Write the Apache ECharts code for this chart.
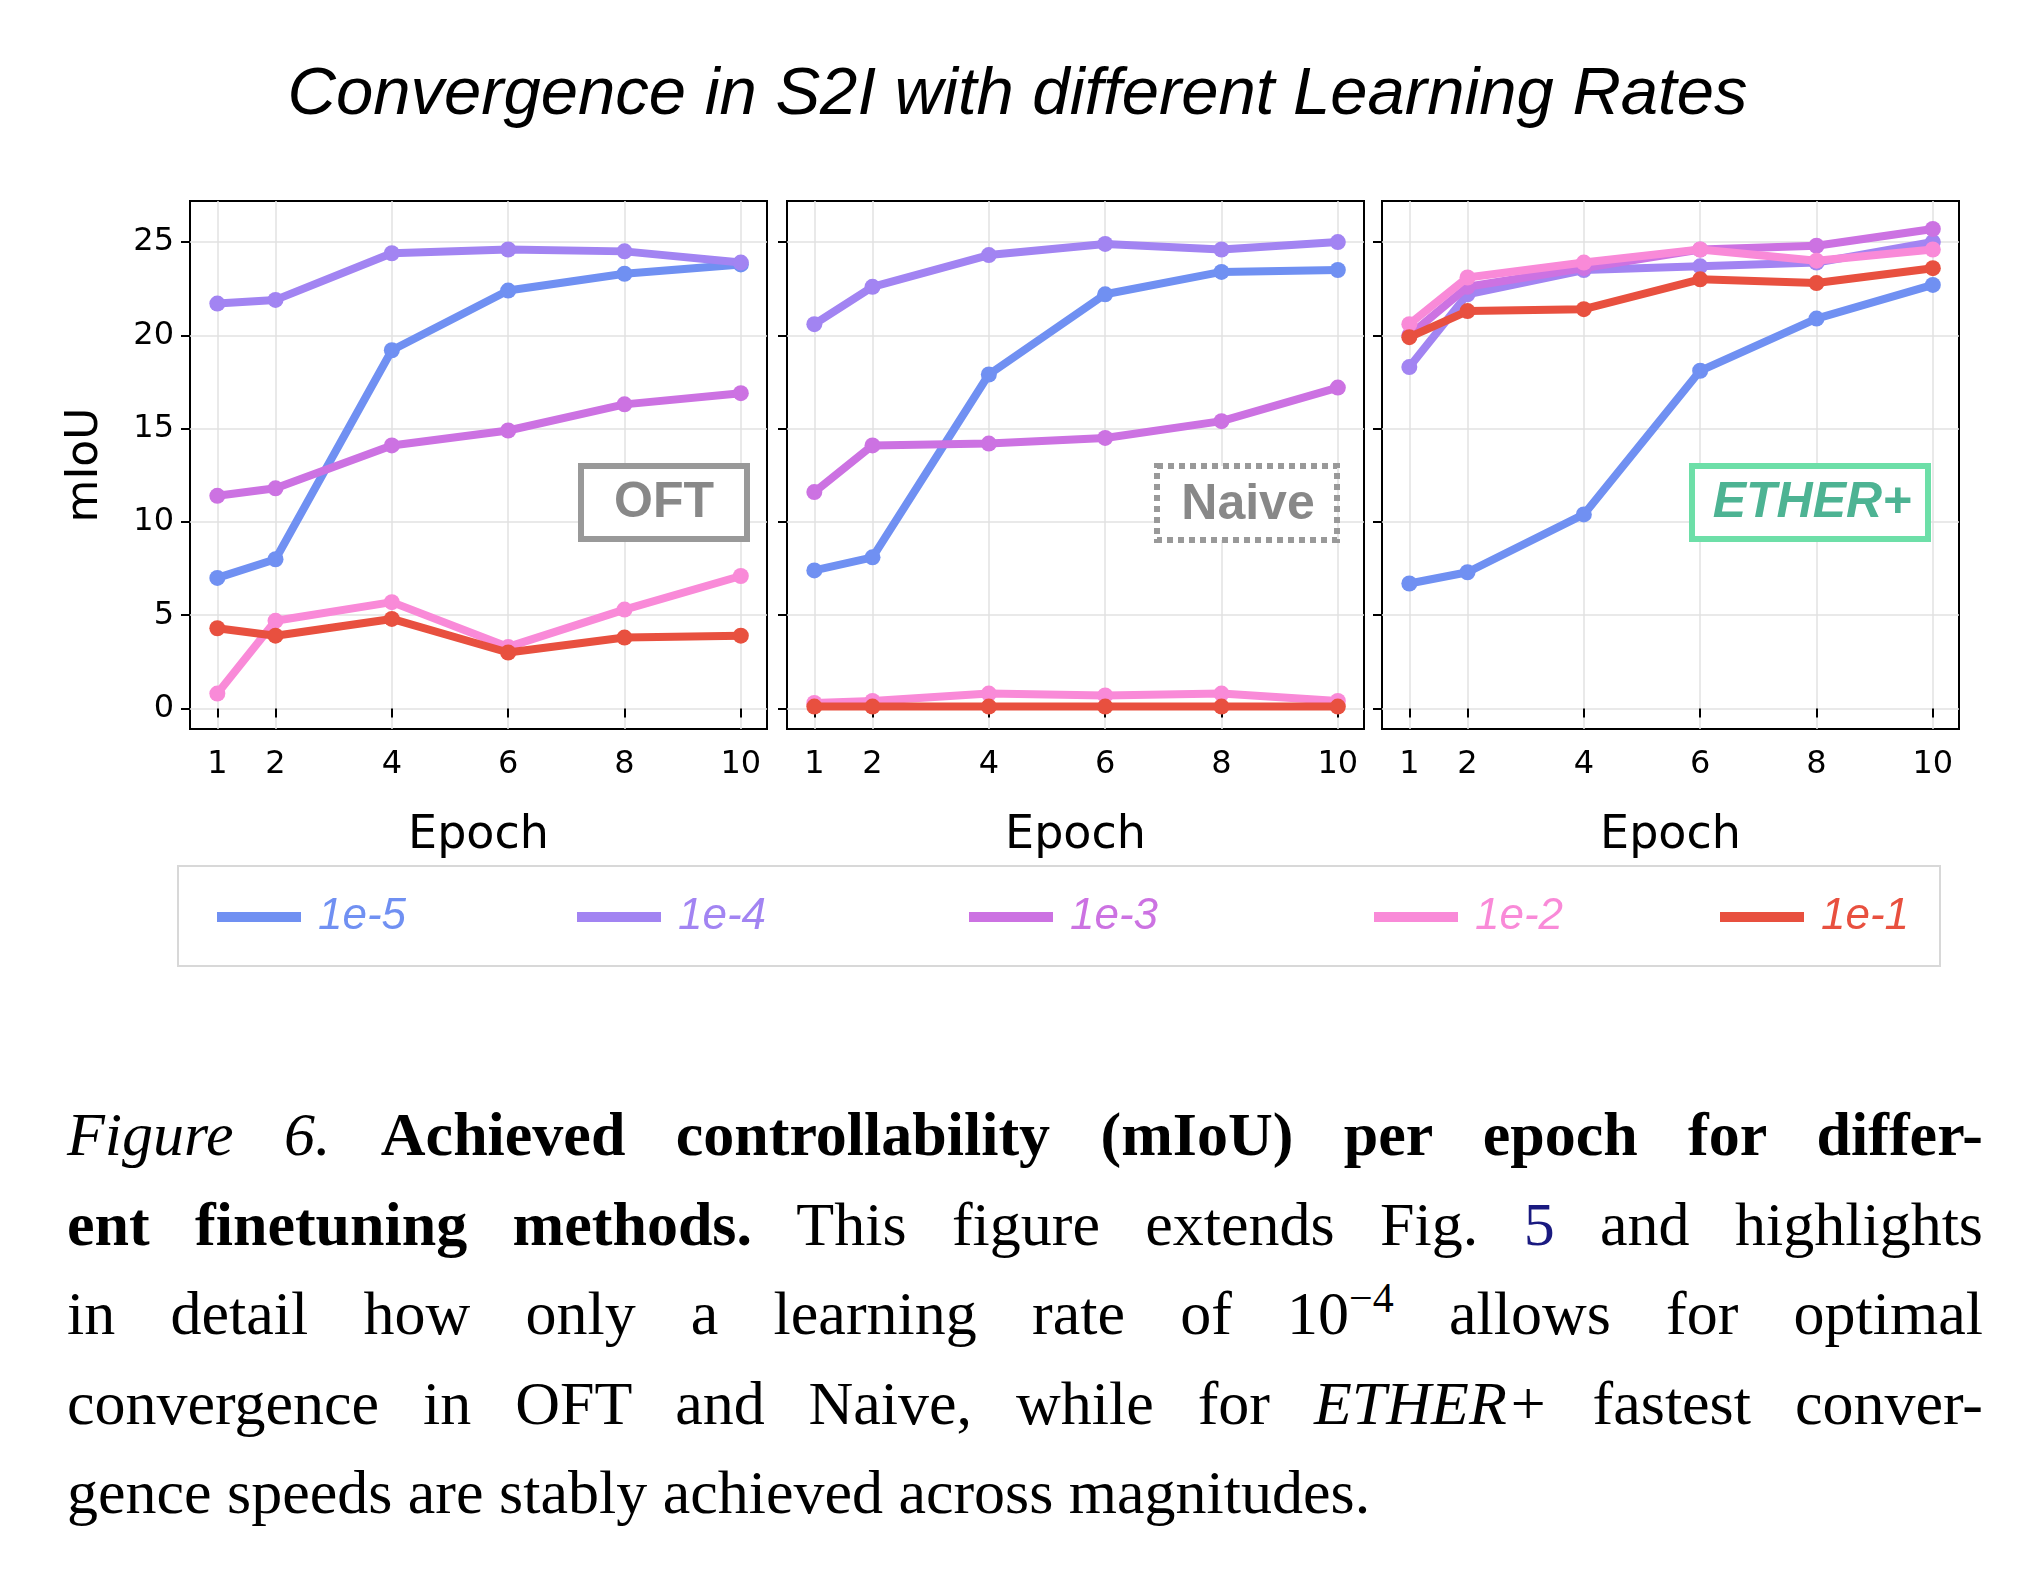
<!DOCTYPE html>
<html><head><meta charset="utf-8">
<script src="https://cdn.jsdelivr.net/npm/echarts@6/dist/echarts.min.js"></script>
<style>
body{margin:0;background:#fff;width:2035px;height:1581px;overflow:hidden;position:relative}
#c{position:absolute;left:0;top:0;width:2035px;height:1060px}
#cap{position:absolute;left:67px;top:1090px;width:1916px;font-family:"Liberation Serif",serif;font-size:62px;line-height:89.5px;color:#000}
#cap div{text-align:justify;text-align-last:justify;white-space:nowrap}
#cap div.last{text-align-last:left}
</style></head><body>
<div id="c"></div>
<div id="cap">
<div><i>Figure 6.</i> <b>Achieved controllability (mIoU) per epoch for differ-</b></div>
<div><b>ent finetuning methods.</b> This figure extends Fig. <span style="color:#1a1a80">5</span> and highlights</div>
<div>in detail how only a learning rate of 10<sup style="font-size:42px;line-height:0">−4</sup> allows for optimal</div>
<div>convergence in OFT and Naive, while for <i>ETHER+</i> fastest conver-</div>
<div class="last">gence speeds are stably achieved across magnitudes.</div>
</div>
<script>
const epochs=[1,2,4,6,8,10];
const rates=['1e-5','1e-4','1e-3','1e-2','1e-1'];
const colors=['#7090f2','#a284f2','#cc72e2','#f98ad8','#e8503f'];
const panels=['OFT','Naive','ETHER+'];
const oft=[[7.0,8.0,19.2,22.4,23.3,23.8],[21.7,21.9,24.4,24.6,24.5,23.9],[11.4,11.8,14.1,14.9,16.3,16.9],[0.8,4.7,5.7,3.3,5.3,7.1],[4.3,3.9,4.8,3.0,3.8,3.9]];
const naive=[[7.4,8.1,17.9,22.2,23.4,23.5],[20.6,22.6,24.3,24.9,24.6,25.0],[11.6,14.1,14.2,14.5,15.4,17.2],[0.3,0.4,0.8,0.7,0.8,0.4],[0.1,0.1,0.1,0.1,0.1,0.1]];
const ether=[[6.7,7.3,10.4,18.1,20.9,22.7],[18.3,22.2,23.5,23.7,23.9,25.0],[20.0,22.6,23.6,24.6,24.8,25.7],[20.6,23.1,23.9,24.6,24.0,24.6],[19.9,21.3,21.4,23.0,22.8,23.6]];
const yTicks=[0,5,10,15,20,25];
const data=[oft,naive,ether];
const lefts=[190,787,1382], W=577;
const font='DejaVu Sans';
const grid=[],xAxis=[],yAxis=[],series=[];
lefts.forEach((l,i)=>{
  grid.push({left:l,top:201,width:W,height:528,show:true,borderColor:'#000',borderWidth:2,containLabel:false});
  xAxis.push({type:'value',gridIndex:i,min:0.53,max:10.45,name:'Epoch',nameLocation:'middle',nameGap:84,
    nameTextStyle:{fontFamily:font,fontSize:46,color:'#000'},
    axisLine:{show:false},axisTick:{show:true,length:9,lineStyle:{color:'#000',width:2},customValues:epochs},
    axisLabel:{fontFamily:font,fontSize:32,color:'#000',margin:20,customValues:epochs},
    splitLine:{show:true,lineStyle:{color:'#e2e2e2',width:1.5}}});
  yAxis.push({type:'value',gridIndex:i,min:-1.1,max:27.2,name:i==0?'mIoU':'',nameLocation:'middle',nameGap:82,
    nameTextStyle:{fontFamily:font,fontSize:44,color:'#000'},
    axisLine:{show:false},axisTick:{show:true,length:9,lineStyle:{color:'#000',width:2},customValues:yTicks},
    axisLabel:{show:i==0,fontFamily:font,fontSize:32,color:'#000',margin:16,customValues:yTicks},
    splitLine:{show:true,lineStyle:{color:'#e2e2e2',width:1.5}}});
  data[i].forEach((d,k)=>series.push({type:'line',name:rates[k],xAxisIndex:i,yAxisIndex:i,
    data:epochs.map((e,j)=>[e,d[j]]),symbol:'circle',symbolSize:16,color:colors[k],
    lineStyle:{width:8,color:colors[k]},itemStyle:{color:colors[k]},z:10+k,animation:false}));
});
const g=[
 {type:'text',left:'center',top:62,style:{text:'Convergence in S2I with different Learning Rates',font:'italic 67px "Liberation Sans"',fill:'#000'}},
 {type:'rect',shape:{x:581,y:466,width:166,height:73},style:{fill:'#fff',stroke:'#999',lineWidth:6},z:50},
 {type:'text',x:664,y:503,style:{text:'OFT',font:'bold 50px "Liberation Sans"',fill:'#888',align:'center',verticalAlign:'middle'},z:51},
 {type:'rect',shape:{x:1157,y:466,width:180,height:74},style:{fill:'#fff',stroke:'#999',lineWidth:6,lineDash:[6,5]},z:50},
 {type:'text',x:1248,y:505,style:{text:'Naive',font:'bold 50px "Liberation Sans"',fill:'#888',align:'center',verticalAlign:'middle'},z:51},
 {type:'rect',shape:{x:1692,y:466,width:236,height:73},style:{fill:'#fff',stroke:'#6ddfa8',lineWidth:6},z:50},
 {type:'text',x:1812,y:503,style:{text:'ETHER+',font:'italic bold 50px "Liberation Sans"',fill:'#4db393',align:'center',verticalAlign:'middle'},z:51},
 {type:'rect',shape:{x:178,y:866,width:1762,height:100},style:{fill:'#fff',stroke:'#d8d8d8',lineWidth:2}}
];
const lx=[217,577,969,1374,1720];
rates.forEach((r,k)=>{
  g.push({type:'line',shape:{x1:lx[k],y1:917,x2:lx[k]+84,y2:917},style:{stroke:colors[k],lineWidth:10},z:5});
  g.push({type:'text',x:lx[k]+101,y:917,style:{text:r,font:'italic 44px "Liberation Sans"',fill:colors[k],verticalAlign:'middle'},z:5});
});
const ch=echarts.init(document.getElementById('c'));
ch.setOption({animation:false,grid,xAxis,yAxis,series,graphic:g});
</script></body></html>
